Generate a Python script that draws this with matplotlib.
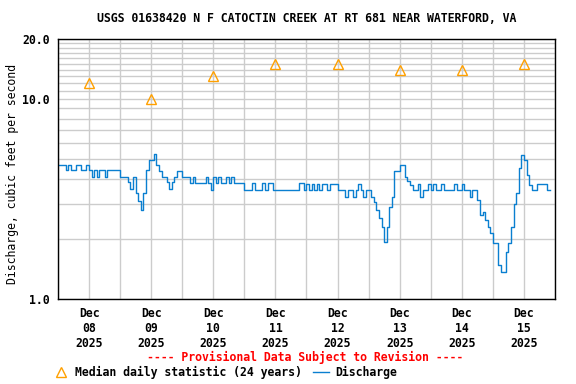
import numpy as np
import matplotlib
matplotlib.use("Agg")
import matplotlib.pyplot as plt
from matplotlib.lines import Line2D

# Hourly discharge (cfs), starting Dec 08 00:00
dec08 = [4.7, 4.7, 4.7, 4.4, 4.7, 4.4, 4.4, 4.7, 4.7, 4.4, 4.4, 4.7,
         4.4, 4.1, 4.4, 4.1, 4.4, 4.4, 4.1, 4.4, 4.4, 4.4, 4.4, 4.4]
dec09 = [4.07, 4.07, 4.07, 3.83, 3.54, 4.07, 3.4, 3.1, 2.8, 3.4, 4.4, 4.95,
         4.95, 5.3, 4.68, 4.37, 4.07, 4.07, 3.83, 3.54, 3.83, 4.07, 4.37, 4.37]
dec10 = [4.07, 4.07, 4.07, 3.8, 4.07, 3.8, 3.8, 3.8, 3.8, 4.07, 3.8, 3.5,
         4.07, 3.8, 4.07, 3.8, 3.8, 4.07, 3.8, 4.07, 3.8, 3.8, 3.8, 3.8]
dec11 = [3.5, 3.5, 3.5, 3.8, 3.5, 3.5, 3.5, 3.8, 3.5, 3.8, 3.8, 3.5,
         3.5, 3.5, 3.5, 3.5, 3.5, 3.5, 3.5, 3.5, 3.5, 3.8, 3.8, 3.5]
dec12 = [3.76, 3.5, 3.76, 3.5, 3.76, 3.5, 3.76, 3.76, 3.5, 3.76, 3.76, 3.76,
         3.5, 3.5, 3.5, 3.25, 3.5, 3.5, 3.25, 3.5, 3.76, 3.5, 3.25, 3.5]
dec13 = [3.5, 3.25, 3.07, 2.79, 2.53, 2.3, 1.93, 2.3, 2.9, 3.25, 4.37, 4.37,
         4.68, 4.68, 4.07, 3.9, 3.7, 3.5, 3.5, 3.76, 3.25, 3.5, 3.5, 3.76]
dec14 = [3.5, 3.76, 3.5, 3.5, 3.76, 3.5, 3.5, 3.5, 3.5, 3.76, 3.5, 3.5,
         3.76, 3.5, 3.5, 3.25, 3.5, 3.5, 3.13, 2.63, 2.73, 2.48, 2.3, 2.14]
dec15 = [1.9, 1.9, 1.48, 1.37, 1.37, 1.72, 1.9, 2.3, 3.0, 3.39, 4.5, 5.25,
         4.95, 4.17, 3.72, 3.5, 3.5, 3.76, 3.76, 3.76, 3.76, 3.5, 3.5]

day_labels = ["Dec\n08\n2025", "Dec\n09\n2025", "Dec\n10\n2025", "Dec\n11\n2025",
              "Dec\n12\n2025", "Dec\n13\n2025", "Dec\n14\n2025", "Dec\n15\n2025"]
median_values = [12, 10, 13, 15, 15, 14, 14, 15]

discharge = np.array(dec08 + dec09 + dec10 + dec11 + dec12 + dec13 + dec14 + dec15)
hours = np.arange(len(discharge)) / 24.0
n_days = len(day_labels)
noon = np.arange(n_days) + 0.5

fs = 8.3
plt.rcParams['font.family'] = 'DejaVu Sans Mono'
plt.rcParams['font.weight'] = 'bold'
plt.rcParams['font.size'] = fs

fig = plt.figure(figsize=(5.76, 3.84), dpi=100)
ax = fig.add_axes([0.1007, 0.2214, 0.8628, 0.677])

ax.plot(hours, discharge, color='#0a7fd0', linewidth=1.0, drawstyle='steps-post')
ax.plot(noon, median_values, linestyle='none', marker='^', markersize=7,
        markerfacecolor='none', markeredgecolor='#ffa000', markeredgewidth=1.0)

ax.set_yscale('log')
ax.set_ylim(1, 20)
ax.set_yticks([1, 10, 20])
ax.set_yticklabels(['1.0', '10.0', '20.0'])
ax.set_yticks(list(range(2, 10)) + list(range(11, 20)), minor=True)
ax.yaxis.set_minor_formatter(plt.NullFormatter())

ax.set_xlim(0, n_days)
ax.set_xticks(np.arange(n_days + 1))
ax.set_xticklabels([''] * (n_days + 1))
ax.set_xticks(noon, minor=True)
ax.set_xticklabels(day_labels, minor=True)

ax.grid(True, which='both', color='#cccccc', linewidth=1.0)
ax.set_axisbelow(True)
ax.tick_params(which='both', length=0, pad=6)
for s in ax.spines.values():
    s.set_linewidth(1.0)

ax.set_ylabel('Discharge, cubic feet per second', fontsize=fs)
ax.yaxis.set_label_coords(-0.079, 0.479)
ax.set_title('USGS 01638420 N F CATOCTIN CREEK AT RT 681 NEAR WATERFORD, VA',
             fontsize=fs, fontweight='bold', pad=12)

fig.text(0.53, 0.068, '---- Provisional Data Subject to Revision ----',
         color='red', ha='center', va='center')

handles = [
    Line2D([], [], linestyle='none', marker='^', markersize=7,
           markerfacecolor='none', markeredgecolor='#ffa000'),
    Line2D([], [], color='#0a7fd0', linewidth=1.0),
]
fig.legend(handles, ['Median daily statistic (24 years)', 'Discharge'],
           loc='center left', bbox_to_anchor=(0.092, 0.031), ncol=2,
           frameon=False, handlelength=1.4, handletextpad=0.5,
           columnspacing=1.0, borderpad=0, borderaxespad=0)

fig.savefig('out.png', dpi=100)
